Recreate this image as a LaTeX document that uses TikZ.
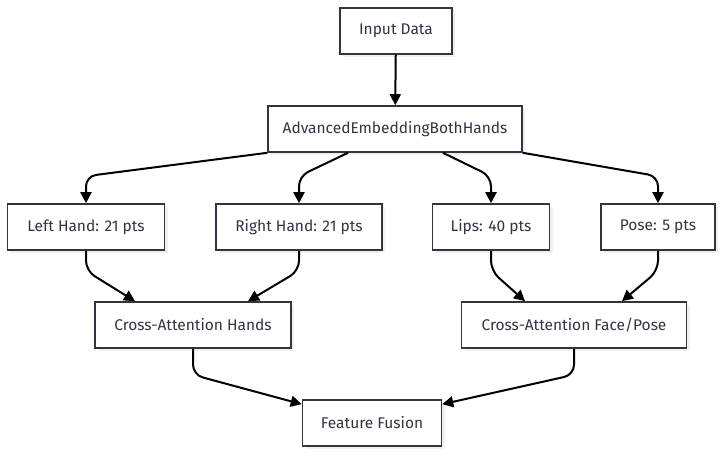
\documentclass[tikz,border=0pt]{standalone}
\usepackage{fontspec}
\setmainfont{Fira Sans}
\usepackage{tikz}
\usetikzlibrary{calc, arrows.meta, shadows}
\definecolor{ink}{HTML}{333344}
\tikzstyle{blk}=[draw=ink, fill=white, line width=1.6pt, text=ink, minimum height=46pt, inner sep=0pt,
  font=\fontsize{15.5}{18}\selectfont, drop shadow={opacity=.12, shadow xshift=3pt, shadow yshift=-3pt}]
\tikzstyle{flow}=[line width=2pt, rounded corners=10pt]
\tikzset{>={Triangle[length=11pt, width=11pt]}}

\begin{document}
\begin{tikzpicture}[x=1pt, y=-1pt]
\useasboundingbox (0,0) rectangle (724,456);
\node[blk, minimum width=112pt] (in) at (396,31) {Input Data};
\node[blk, minimum width=254pt] (adv) at (395,129) {AdvancedEmbeddingBothHands};
\node[blk, minimum width=157pt] (lh) at (86,227) {Left Hand: 21 pts};
\node[blk, minimum width=166pt] (rh) at (299,227) {Right Hand: 21 pts};
\node[blk, minimum width=117pt] (lips) at (491,227) {Lips: 40 pts};
\node[blk, minimum width=114pt] (pose) at (658,227) {Pose: 5 pts};
\node[blk, minimum width=196pt] (cah) at (193,325) {Cross-Attention Hands};
\node[blk, minimum width=225pt] (cafp) at (574,325) {Cross-Attention Face/Pose};
\node[blk, minimum width=139pt] (ff) at (372,423) {Feature Fusion};

\draw[flow, ->] (in) -- (adv);

\draw[flow, ->] (adv.south west) -- ($(lh.north)+(0,-27)$) -- (lh.north);
\draw[flow, ->] ($(adv.south)+(-47,0)$) -- ($(rh.north)+(0,-27)$) -- (rh.north);
\draw[flow, ->] ($(adv.south)+(48,0)$) -- ($(lips.north)+(0,-27)$) -- (lips.north);
\draw[flow, ->] (adv.south east) -- ($(pose.north)+(0,-27)$) -- (pose.north);

\draw[flow, ->] (lh.south) -- ($(lh.south)+(0,20)$) -- ($(cah.north)+(-58,0)$);
\draw[flow, ->] (rh.south) -- ($(rh.south)+(0,20)$) -- ($(cah.north)+(55,0)$);
\draw[flow, ->] (lips.south) -- ($(lips.south)+(0,20)$) -- ($(cafp.north)+(-49,0)$);
\draw[flow, ->] (pose.south) -- ($(pose.south)+(0,20)$) -- ($(cafp.north)+(48,0)$);

\draw[flow, ->] (cah.south) -- ($(cah.south)+(0,26)$) -- ($(ff.north west)+(0,5)$);
\draw[flow, ->] (cafp.south) -- ($(cafp.south)+(0,26)$) -- ($(ff.north east)+(0,5)$);
\end{tikzpicture}
\end{document}
